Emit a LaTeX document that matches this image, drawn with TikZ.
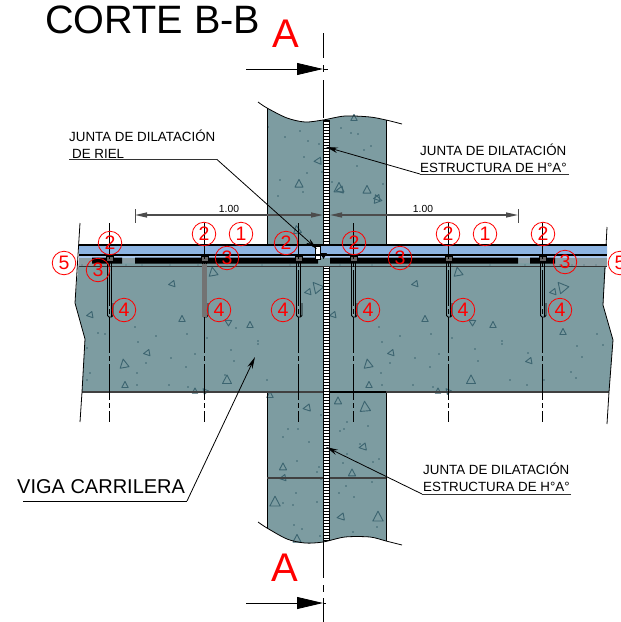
\documentclass[tikz,border=0pt]{standalone}
\usepackage{fontspec}
\setmainfont{Liberation Sans}
\usetikzlibrary{arrows.meta}
\definecolor{concrete}{HTML}{7D9CA1}
\definecolor{aggregate}{HTML}{3C6470}
\definecolor{plate}{HTML}{8DB4E2}
\definecolor{platelow}{HTML}{A9C8EE}
\definecolor{grout}{HTML}{8A9DA3}
\tikzset{
    num node/.style={circle,draw=red,line width=.8pt,text=red,minimum size=23.5pt,inner sep=0pt,font=\fontsize{19.5}{19}\selectfont},
    note node/.style={anchor=base west,inner sep=0pt,font=\fontsize{13.35}{13}\selectfont},
    cut node/.style={anchor=base,inner sep=0pt,text=red,font=\fontsize{40}{40}\selectfont},
    dim node/.style={anchor=base,inner sep=0pt,font=\fontsize{10.3}{10}\selectfont},
    leader/.style={-{Stealth[length=12pt,width=5.5pt]},thick},
    cut arrow/.style={-{Stealth[length=26pt,width=12pt,inset=0pt]},thick},
    dim arrow/.style={{Stealth[length=12pt,width=5pt,inset=0pt]}-{Stealth[length=12pt,width=5pt,inset=0pt]},black!70,line width=1.2pt},
    axis/.style={line width=.9pt,dash pattern=on 36pt off 3pt on 5pt off 3pt},
    gravel/.style={aggregate,line width=.9pt,line join=round}
}
\begin{document}
\begin{tikzpicture}[x=1pt,y=-1pt,>=stealth]
    \clip (0,0) rectangle (621,622);

    % walls and beam
    \fill[concrete] (267,108) -- plot[smooth] coordinates {(267,108) (287,118) (305,122) (323,120) (345,116) (370,117) (386,120)}
        -- plot[smooth] coordinates {(386,541) (370,537) (345,537) (323,542) (305,543) (287,539) (267,528)} -- cycle;
    \fill[concrete] (80,247) -- (75,303) -- (85,339) -- (82,392) -- (609,392) -- (613,340) -- (603,305) -- (607,247) -- cycle;

    % aggregate
    \foreach \gx/\gy/\gr/\gs in {354/118/0/.7,318/161/95/.8,299/184/0/.9,339/188/0/1.1,367/190/0/.9,377/199/20/.9,
        297/230/10/.9,213/272/10/1,172/284/100/.7,317/287/40/1.2,308/292/100/.7,90/315/100/.7,182/319/0/.7,228/322/60/.7,250/325/0/.7,333/315/100/.7,
        340/190/100/.8,377/198/100/.7,458/272/10/1,415/284/100/.7,562/287/40/1.2,553/292/100/.7,425/319/0/.7,472/322/60/.7,493/325/0/.7,
        124/364/10/1,147/353/100/.7,125/385/0/.7,227/380/0/1,195/391/0/.6,205/391/40/.6,270/395/0/.7,275/502/0/1.15,
        368/364/10/1,391/353/100/.7,369/385/0/.7,471/380/0/1,563/332/0/.7,529/361/100/.7,438/391/0/.6,448/391/40/.6,
        338/401/0/.8,365/407/5/1.15,307/408/100/.8,363/447/100/.8,283/467/0/.8,283/478/100/.7,352/473/0/.8,341/517/100/.8,378/517/0/1.15,297/539/0/.9}
        \draw[gravel,shift={(\gx,\gy)},rotate=\gr,scale=\gs] (0,-5) -- (4.5,3.5) -- (-4.5,3.5) -- cycle;
    \foreach \dx/\dy in {268/127,285/137,300/131,308/141,319/144,304/157,307/173,322/172,280/180,278/196,303/192,341/128,351/133,358/134,364/150,371/146,357/166,332/182,383/184,
        288/429,298/429,283/437,309/442,321/415,297/461,319/467,317/472,321/479,296/493,283/503,293/505,317/502,294/525,302/529,320/536,347/422,344/429,340/431,368/426,360/444,347/454,343/463,373/462,379/459,346/486,372/482,339/493,354/497,377/527,353/532,
        98/333,105/334,87/348,135/327,138/342,156/336,187/334,146/363,171/358,195/354,186/367,137/373,90/373,87/380,137/385,169/385,188/387,207/338,236/328,258/341,258/344,231/350,234/361,267/380,225/375,
        379/327,382/342,400/336,431/334,390/363,415/358,439/354,430/367,381/373,382/385,413/385,433/387,452/338,475/349,478/361,502/341,502/344,528/353,510/380,527/385,544/380,577/346,597/334,582/357,571/372,576/378,603/345,576/392}
        \fill[aggregate] (\dx,\dy) circle (.8);

    % outlines
    \draw[black,thick] plot[smooth] coordinates {(258,102) (267,108) (287,118) (305,122) (323,120) (345,116) (370,117) (386,120) (402,124)};
    \draw[black,thick] plot[smooth] coordinates {(258,522) (267,528) (287,539) (305,543) (323,542) (345,537) (370,537) (386,541) (402,545)};
    \draw[thick] (267,108) -- (267,245) (386,120) -- (386,245) (267,392) -- (267,528) (386,392) -- (386,541);
    \draw[black!75,line width=1.1pt] (82,392) -- (609,392) (267,478) -- (386,478);
    \draw[thick] (80,223) -- (75,303) -- (85,339) -- (82,392) -- (80,422);
    \draw[thick] (607,227) -- (603,305) -- (613,340) -- (609,392) -- (607,424);
    \draw[line width=1.6pt] (329,392) -- (386,392);

    % joint
    \fill[black] (323,120) rectangle (330,541);
    \draw[white,line width=4.4pt,dash pattern=on 2pt off 1pt] (326.5,122) -- (326.5,540);

    % rail plate
    \fill[plate] (79,246) rectangle (315,254) (320,246) rectangle (607,254);
    \fill[platelow] (79,255) rectangle (607,258);
    \fill[concrete] (79,258) rectangle (607,266);
    \fill[grout] (79,258) rectangle (95,266) (122,258) rectangle (135,263) (518,258) rectangle (530,263) (555,258) rectangle (607,266);
    \fill[black] (92,257.5) rectangle (122,263.5) (135,257.5) rectangle (318,263.5) (330,257.5) rectangle (518,263.5) (530,257.5) rectangle (555,263.5);
    \foreach \sx in {82,88,100,126,142,170,198,236,262,290,340,372,410,452,490,525,560,572,584,596}
        \fill[aggregate] (\sx,265) circle (.7);
    \fill[white] (315,246) rectangle (320,259);
    \draw[black,line width=1.6pt] (79,245) -- (607,245);
    \draw[black,line width=1.2pt] (79,255) -- (607,255);
    \draw[black!80,line width=1pt] (79,266) -- (607,266);
    \draw[thin] (315,246) rectangle (320,259);
    \fill[black] (320,253) -- (327,253) -- (323.5,259) -- cycle;

    % bolts
    \foreach \bx in {109,204,298,353,448,542} {
        \draw[black,line width=.9pt,rounded corners=1.5pt] (\bx-1.5,260) -- (\bx-1.5,317) -- (\bx+4,317) -- (\bx+4,303) (\bx+2.5,260) -- (\bx+2.5,317);
        \fill[black!60] (\bx-3,256) rectangle (\bx+4,261);
        \draw[black,thin] (\bx-3,256) rectangle (\bx+4,261);
        \draw[axis] (\bx,223) -- (\bx,422);
    }
    \fill[black!55] (201.5,264) rectangle (207,317);

    % section line
    \coordinate (topTail) at (246,69);
    \coordinate (topTip) at (323,69);
    \coordinate (botTail) at (246,603);
    \coordinate (botTip) at (323,603);
    \draw (323,33) -- (323,58) (323,65) -- (323,72) (323,80) -- (323,118);
    \draw (323,540) -- (323,578) (323,585) -- (323,592) (323,598) -- (323,622);
    \draw[cut arrow] (topTail) -- (topTip);
    \draw[cut arrow] (botTail) -- (botTip);
    \draw (323,69) -- (328,69) (323,603) -- (326,603);

    % dimensions
    \coordinate (dimA) at (135,215);
    \coordinate (dimB) at (323,215);
    \coordinate (dimC) at (330,215);
    \coordinate (dimD) at (518,215);
    \draw[dim arrow] (dimA) -- (dimB);
    \draw[dim arrow] (dimC) -- (dimD);
    \draw[black!70,line width=.8pt] (135,209) -- (135,223) (518,209) -- (518,223);
    \node[dim node] (dimLeft) at (229,212) {1.00};
    \node[dim node] (dimRight) at (423,212) {1.00};

    % texts
    \node[anchor=base west,inner sep=0pt,font=\fontsize{39.6}{39}\selectfont] (title) at (45,33) {CORTE B-B};
    \node[cut node] (cutTop) at (286,47) {A};
    \node[cut node] (cutBot) at (285,581) {A};

    \node[note node] (railA) at (69,141) {JUNTA DE DILATACIÓN};
    \node[note node] (railB) at (72,158) {DE RIEL};
    \node[note node] (upperA) at (420,155) {JUNTA DE DILATACIÓN};
    \node[note node] (upperB) at (420,172) {ESTRUCTURA DE H°A°};
    \node[note node] (lowerA) at (423,474) {JUNTA DE DILATACIÓN};
    \node[note node] (lowerB) at (423,491) {ESTRUCTURA DE H°A°};
    \node[anchor=base west,inner sep=0pt,font=\fontsize{20}{20}\selectfont] (viga) at (17,493) {VIGA CARRILERA};

    \coordinate (railS) at (69,159.5);
    \coordinate (railE) at (217,159.5);
    \coordinate (railTip) at (317,249);
    \coordinate (upperS) at (569,174);
    \coordinate (upperE) at (420,174);
    \coordinate (upperTip) at (326,147);
    \coordinate (lowerS) at (571,494);
    \coordinate (lowerE) at (422,494);
    \coordinate (lowerTip) at (326,447);
    \coordinate (vigaS) at (23,501);
    \coordinate (vigaE) at (187,501);
    \coordinate (vigaTip) at (255,357);

    \draw[thick,black!80] (railS) -- (railE);
    \draw[leader] (railE) -- (railTip);
    \draw[thick,black!80] (upperS) -- (upperE);
    \draw[leader] (upperE) -- (upperTip);
    \draw[thick,black!80] (lowerS) -- (lowerE);
    \draw[leader] (lowerE) -- (lowerTip);
    \draw (vigaS) -- (vigaE);
    \draw[leader] (vigaE) -- (vigaTip);

    % markers
    \foreach \mx/\my/\mt [count=\mi] in {110/243/2,204/234/2,241/234/1,286/243/2,354/243/2,448/234/2,485/234/1,543/234/2,
        64/263/5,620/263/5,98/270/3,227/258/3,400/258/3,565/262/3,
        124/310/4,219/310/4,283/310/4,368/310/4,463/310/4,560/310/4}
        \node[num node] (mark\mi) at (\mx,\my) {\mt};
\end{tikzpicture}
\end{document}
